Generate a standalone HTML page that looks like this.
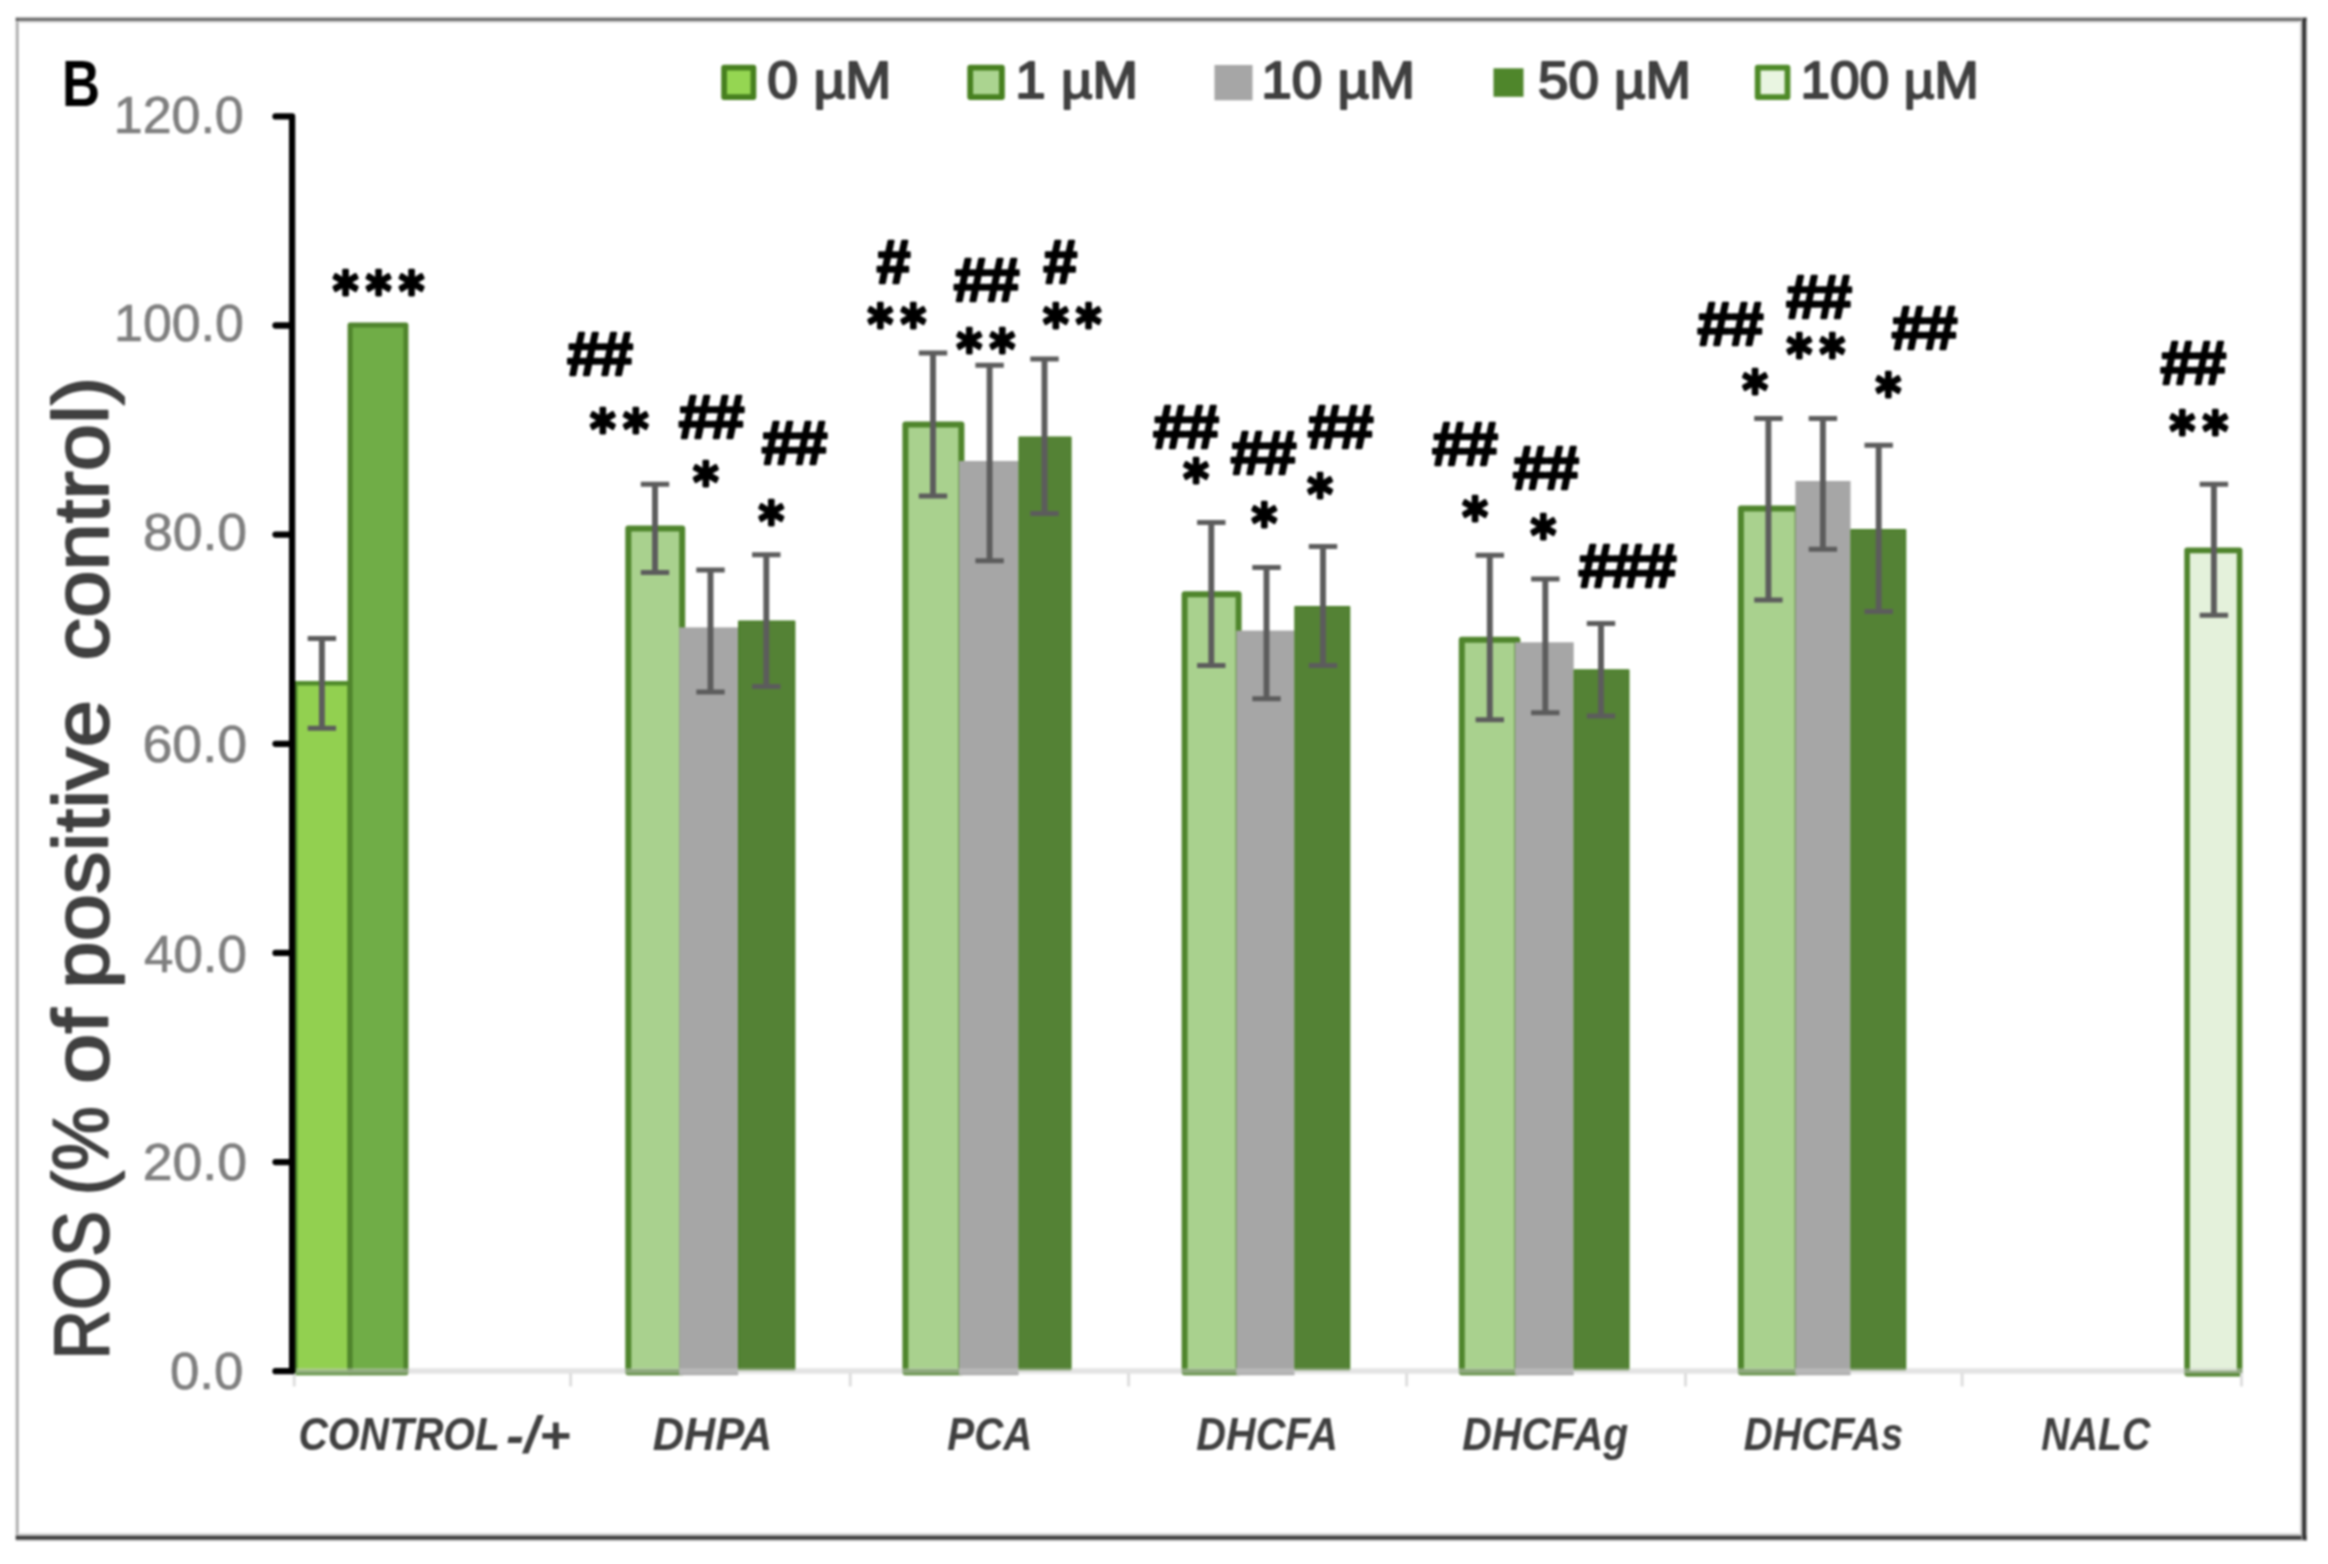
<!DOCTYPE html>
<html lang="en">
<head>
<meta charset="utf-8">
<title>ROS (% of positive control)</title>
<style>
html,body{margin:0;padding:0;background:#fff;}
body{width:2328px;height:1564px;overflow:hidden;}
svg{display:block;filter:blur(1.25px);}
text{font-family:"Liberation Sans",sans-serif;white-space:pre;}
.h{font-weight:700;font-size:60.5px;letter-spacing:-1.6px;stroke:#000;stroke-width:2.6px;stroke-linejoin:round;}
.s{font-family:"DejaVu Sans","Liberation Sans",sans-serif;font-weight:700;font-size:49.0px;letter-spacing:7.3px;stroke:#000;stroke-width:2.6px;stroke-linejoin:round;}
.t{font-size:52.0px;stroke:#7f7f7f;stroke-width:0.7px;}
.l{font-size:52.0px;fill:#404040;stroke:#404040;stroke-width:2.0px;stroke-linejoin:round;}
.c{font-size:47.0px;font-weight:700;font-style:italic;}
.y{font-size:77.0px;fill:#404040;stroke:#404040;stroke-width:1.9px;stroke-linejoin:round;}
.b{font-size:64.5px;font-weight:700;fill:#000;}
</style>
</head>
<body>
<svg width="2328" height="1564" viewBox="0 0 2328 1564">
<rect x="0" y="0" width="2328" height="1564" fill="#fff"/>
<g id="frame">
<rect x="15.2" y="17.2" width="1.3" height="1523" fill="#d6d6d6"/>
<rect x="16.5" y="17.2" width="2.0" height="1523" fill="#9c9c9c"/>
<rect x="15.8" y="17.1" width="2291" height="1.6" fill="#a2a2a2"/>
<rect x="15.8" y="18.7" width="2291" height="2.0" fill="#424242"/>
<rect x="17.5" y="20.7" width="2284" height="1.9" fill="#cdcdcd"/>
<rect x="17.5" y="1533.1" width="2284" height="2.1" fill="#dadada"/>
<rect x="15.8" y="1535.2" width="2291" height="1.7" fill="#6e6e6e"/>
<rect x="15.8" y="1536.9" width="2291" height="2.1" fill="#262626"/>
<rect x="15.8" y="1539.0" width="2291" height="1.8" fill="#a2a2a2"/>
<rect x="2299.2" y="21" width="2.0" height="1514" fill="#ececec"/>
<rect x="2301.2" y="19" width="1.8" height="1520" fill="#868686"/>
<rect x="2303.0" y="18.2" width="2.2" height="1521.5" fill="#1c1c1c"/>
<rect x="2305.2" y="17.6" width="1.6" height="1523" fill="#626262"/>
</g>
<g id="bars">
<rect x="295.30" y="683.30" width="54.40" height="689.60" fill="#92d050" stroke="#4f8a2a" stroke-width="4.6" stroke-linejoin="round"/>
<rect x="350.10" y="325.00" width="55.80" height="1047.70" fill="#70ad47" stroke="#4f842c" stroke-width="5.0" stroke-linejoin="round"/>
<rect x="628.30" y="528.60" width="53.90" height="843.60" fill="#a9d18e" stroke="#4f852c" stroke-width="6.0" stroke-linejoin="round"/>
<rect x="679.20" y="627.40" width="59.00" height="747.80" fill="#a6a6a6"/>
<rect x="738.80" y="621.40" width="55.80" height="748.20" fill="#548235" stroke="#4a7f28" stroke-width="1.6" stroke-linejoin="round"/>
<rect x="905.40" y="424.50" width="56.00" height="947.70" fill="#a9d18e" stroke="#4f852c" stroke-width="6.0" stroke-linejoin="round"/>
<rect x="959.10" y="461.00" width="59.50" height="914.20" fill="#a6a6a6"/>
<rect x="1019.20" y="437.30" width="51.60" height="932.30" fill="#548235" stroke="#4a7f28" stroke-width="1.6" stroke-linejoin="round"/>
<rect x="1184.60" y="594.30" width="54.00" height="777.90" fill="#a9d18e" stroke="#4f852c" stroke-width="6.0" stroke-linejoin="round"/>
<rect x="1236.30" y="630.60" width="58.20" height="744.60" fill="#a6a6a6"/>
<rect x="1295.10" y="606.80" width="54.40" height="762.80" fill="#548235" stroke="#4a7f28" stroke-width="1.6" stroke-linejoin="round"/>
<rect x="1461.80" y="639.80" width="55.60" height="732.40" fill="#a9d18e" stroke="#4f852c" stroke-width="6.0" stroke-linejoin="round"/>
<rect x="1515.10" y="642.30" width="58.60" height="732.90" fill="#a6a6a6"/>
<rect x="1574.30" y="670.10" width="54.40" height="699.50" fill="#548235" stroke="#4a7f28" stroke-width="1.6" stroke-linejoin="round"/>
<rect x="1740.90" y="508.60" width="56.80" height="863.60" fill="#a9d18e" stroke="#4f852c" stroke-width="6.0" stroke-linejoin="round"/>
<rect x="1795.40" y="481.00" width="55.10" height="894.20" fill="#a6a6a6"/>
<rect x="1851.10" y="529.80" width="54.40" height="839.80" fill="#548235" stroke="#4a7f28" stroke-width="1.6" stroke-linejoin="round"/>
<rect x="2187.10" y="550.40" width="52.50" height="823.20" fill="#e4f1db" stroke="#4f842c" stroke-width="5.6" stroke-linejoin="round"/>
</g>
<g id="xaxis" stroke="#c9c9c9" stroke-opacity="0.5" stroke-width="5.5" fill="none">
<line x1="296" y1="1370.9" x2="2243" y2="1370.9"/>
</g>
<g id="xticks" stroke="#dedede" stroke-width="3" fill="none">
<line x1="294.2" y1="1373" x2="294.2" y2="1386.5"/>
<line x1="570.6" y1="1373" x2="570.6" y2="1386.5"/>
<line x1="850.2" y1="1373" x2="850.2" y2="1386.5"/>
<line x1="1128.6" y1="1373" x2="1128.6" y2="1386.5"/>
<line x1="1406.7" y1="1373" x2="1406.7" y2="1386.5"/>
<line x1="1685.5" y1="1373" x2="1685.5" y2="1386.5"/>
<line x1="1962.1" y1="1373" x2="1962.1" y2="1386.5"/>
<line x1="2241.5" y1="1373" x2="2241.5" y2="1386.5"/>
</g>
<g id="yaxis" stroke="#000" stroke-width="6.3" fill="none" stroke-linecap="round" stroke-linejoin="round">
<path d="M275.5 116.4 H292.1 V1371.2 H275.5"/>
<line x1="275.5" y1="1162.1" x2="291" y2="1162.1"/>
<line x1="275.5" y1="952.9" x2="291" y2="952.9"/>
<line x1="275.5" y1="743.8" x2="291" y2="743.8"/>
<line x1="275.5" y1="534.6" x2="291" y2="534.6"/>
<line x1="275.5" y1="325.5" x2="291" y2="325.5"/>
</g>
<g id="errs" stroke="#5c5c5c" fill="none">
<path stroke-width="5.9" d="M321.9 638.5V728.3"/>
<path stroke-width="5.0" d="M307.7 638.5H336.1M307.7 728.3H336.1"/>
<path stroke-width="5.9" d="M655.0 484.3V572.4"/>
<path stroke-width="5.0" d="M640.8 484.3H669.2M640.8 572.4H669.2"/>
<path stroke-width="5.9" d="M710.5 570.0V692.0"/>
<path stroke-width="5.0" d="M696.3 570.0H724.7M696.3 692.0H724.7"/>
<path stroke-width="5.9" d="M766.3 554.8V686.5"/>
<path stroke-width="5.0" d="M752.1 554.8H780.5M752.1 686.5H780.5"/>
<path stroke-width="5.9" d="M933.0 353.0V496.0"/>
<path stroke-width="5.0" d="M918.8 353.0H947.2M918.8 496.0H947.2"/>
<path stroke-width="5.9" d="M989.6 365.3V560.8"/>
<path stroke-width="5.0" d="M975.4 365.3H1003.8M975.4 560.8H1003.8"/>
<path stroke-width="5.9" d="M1044.5 359.0V513.5"/>
<path stroke-width="5.0" d="M1030.3 359.0H1058.7M1030.3 513.5H1058.7"/>
<path stroke-width="5.9" d="M1211.3 522.5V665.5"/>
<path stroke-width="5.0" d="M1197.1 522.5H1225.5M1197.1 665.5H1225.5"/>
<path stroke-width="5.9" d="M1266.5 567.4V698.7"/>
<path stroke-width="5.0" d="M1252.3 567.4H1280.7M1252.3 698.7H1280.7"/>
<path stroke-width="5.9" d="M1323.0 546.5V665.5"/>
<path stroke-width="5.0" d="M1308.8 546.5H1337.2M1308.8 665.5H1337.2"/>
<path stroke-width="5.9" d="M1489.8 555.2V719.8"/>
<path stroke-width="5.0" d="M1475.6 555.2H1504.0M1475.6 719.8H1504.0"/>
<path stroke-width="5.9" d="M1545.3 579.0V712.8"/>
<path stroke-width="5.0" d="M1531.1 579.0H1559.5M1531.1 712.8H1559.5"/>
<path stroke-width="5.9" d="M1601.0 623.4V716.0"/>
<path stroke-width="5.0" d="M1586.8 623.4H1615.2M1586.8 716.0H1615.2"/>
<path stroke-width="5.9" d="M1768.4 418.6V600.0"/>
<path stroke-width="5.0" d="M1754.2 418.6H1782.6M1754.2 600.0H1782.6"/>
<path stroke-width="5.9" d="M1822.9 418.6V549.2"/>
<path stroke-width="5.0" d="M1808.7 418.6H1837.1M1808.7 549.2H1837.1"/>
<path stroke-width="5.9" d="M1878.7 445.2V611.4"/>
<path stroke-width="5.0" d="M1864.5 445.2H1892.9M1864.5 611.4H1892.9"/>
<path stroke-width="5.9" d="M2213.9 484.2V615.2"/>
<path stroke-width="5.0" d="M2199.7 484.2H2228.1M2199.7 615.2H2228.1"/>
</g>
<g id="ann" fill="#000">
<text class="s" transform="translate(332.8 310.1) scale(1 1.09)">***</text>
<text class="h" x="567.3" y="375.2">##</text>
<text class="s" transform="translate(590.1 447.6) scale(1 1.09)">**</text>
<text class="h" x="678.8" y="437.7">##</text>
<text class="s" transform="translate(693.1 501.1) scale(1 1.09)">*</text>
<text class="h" x="761.8" y="464.2">##</text>
<text class="s" transform="translate(758.5 539.6) scale(1 1.09)">*</text>
<text class="h" x="876.8" y="283.0">#</text>
<text class="s" transform="translate(867.5 343.1) scale(1 1.09)">**</text>
<text class="h" x="953.8" y="301.2">##</text>
<text class="s" transform="translate(956.5 368.1) scale(1 1.09)">**</text>
<text class="h" x="1043.5" y="283.0">#</text>
<text class="s" transform="translate(1042.9 343.1) scale(1 1.09)">**</text>
<text class="h" x="1153.3" y="447.7">##</text>
<text class="s" transform="translate(1183.3 497.6) scale(1 1.09)">*</text>
<text class="h" x="1230.8" y="474.2">##</text>
<text class="s" transform="translate(1251.5 542.1) scale(1 1.09)">*</text>
<text class="h" x="1307.8" y="447.7">##</text>
<text class="s" transform="translate(1307.3 512.6) scale(1 1.09)">*</text>
<text class="h" x="1432.3" y="465.0">##</text>
<text class="s" transform="translate(1462.3 536.1) scale(1 1.09)">*</text>
<text class="h" x="1513.1" y="489.2">##</text>
<text class="s" transform="translate(1530.6 554.4) scale(1 1.09)">*</text>
<text class="h" x="1578.6" y="587.2">###</text>
<text class="h" x="1697.6" y="345.2">##</text>
<text class="s" transform="translate(1742.3 408.8) scale(1 1.09)">*</text>
<text class="h" x="1786.3" y="318.0">##</text>
<text class="s" transform="translate(1786.5 373.1) scale(1 1.09)">**</text>
<text class="h" x="1891.8" y="348.7">##</text>
<text class="s" transform="translate(1875.5 411.6) scale(1 1.09)">*</text>
<text class="h" x="2160.5" y="383.9">##</text>
<text class="s" transform="translate(2169.5 450.4) scale(1 1.09)">**</text>
</g>
<g id="ylab" fill="#7f7f7f">
<text class="t" x="169.9" y="1388.5" textLength="73.4" lengthAdjust="spacingAndGlyphs">0.0</text>
<text class="t" x="142.7" y="1179.9" textLength="104.3" lengthAdjust="spacingAndGlyphs">20.0</text>
<text class="t" x="144.0" y="971.8" textLength="103.0" lengthAdjust="spacingAndGlyphs">40.0</text>
<text class="t" x="142.5" y="761.5" textLength="104.5" lengthAdjust="spacingAndGlyphs">60.0</text>
<text class="t" x="142.9" y="549.7" textLength="104.1" lengthAdjust="spacingAndGlyphs">80.0</text>
<text class="t" x="114.1" y="341.3" textLength="129.7" lengthAdjust="spacingAndGlyphs">100.0</text>
<text class="t" x="113.8" y="133.0" textLength="129.9" lengthAdjust="spacingAndGlyphs">120.0</text>
</g>
<g id="legend">
<rect x="724.1" y="67.7" width="29.3" height="29.4" fill="#95d652" stroke="#47801f" stroke-width="5.8" stroke-linejoin="round"/>
<rect x="970.2" y="67.7" width="31.7" height="29.4" fill="#abd490" stroke="#47801f" stroke-width="5.8" stroke-linejoin="round"/>
<rect x="1214.5" y="65.0" width="38.0" height="35.3" fill="#a6a6a6"/>
<rect x="1493.5" y="68.3" width="30.0" height="28.5" fill="#4f862b"/>
<rect x="1757.7" y="67.7" width="29.8" height="29.4" fill="#e9f5e1" stroke="#4e8a28" stroke-width="5.8" stroke-linejoin="round"/>
<text class="l" x="767.3" y="98.3" textLength="124.0" lengthAdjust="spacingAndGlyphs">0 µM</text>
<text class="l" x="1015.3" y="98.3" textLength="122.7" lengthAdjust="spacingAndGlyphs">1 µM</text>
<text class="l" x="1261.3" y="98.3" textLength="153.7" lengthAdjust="spacingAndGlyphs">10 µM</text>
<text class="l" x="1538.0" y="98.3" textLength="153.0" lengthAdjust="spacingAndGlyphs">50 µM</text>
<text class="l" x="1800.4" y="98.3" textLength="178.4" lengthAdjust="spacingAndGlyphs">100 µM</text>
</g>
<g id="cats" fill="#404040">
<text class="c" y="1450.3"><tspan x="298.4" font-size="47.0" textLength="200.8" lengthAdjust="spacingAndGlyphs">CONTROL</tspan> <tspan x="506.1" y="1452.5" font-size="52.0" textLength="64.6" lengthAdjust="spacingAndGlyphs">-/+</tspan></text>
<text class="c" x="652.8" y="1450.3" textLength="119.6" lengthAdjust="spacingAndGlyphs">DHPA</text>
<text class="c" x="947.3" y="1450.3" textLength="85.1" lengthAdjust="spacingAndGlyphs">PCA</text>
<text class="c" x="1196.3" y="1450.3" textLength="141.6" lengthAdjust="spacingAndGlyphs">DHCFA</text>
<text class="c" x="1462.3" y="1450.3" textLength="165.9" lengthAdjust="spacingAndGlyphs">DHCFAg</text>
<text class="c" x="1743.8" y="1450.3" textLength="159.5" lengthAdjust="spacingAndGlyphs">DHCFAs</text>
<text class="c" x="2041.3" y="1450.3" textLength="109.2" lengthAdjust="spacingAndGlyphs">NALC</text>
</g>
<text class="y" transform="rotate(-90)" y="108.4"><tspan x="-1359.5" textLength="148.4" lengthAdjust="spacingAndGlyphs">ROS</tspan> <tspan x="-1195.2" textLength="89.0" lengthAdjust="spacingAndGlyphs">(%</tspan> <tspan x="-1084.0" textLength="75.5" lengthAdjust="spacingAndGlyphs">of</tspan> <tspan x="-988.7" textLength="288.7" lengthAdjust="spacingAndGlyphs">positive</tspan>  <tspan x="-660.4" textLength="283.7" lengthAdjust="spacingAndGlyphs">control)</tspan></text>
<text class="b" x="61.9" y="106.4" textLength="38.1" lengthAdjust="spacingAndGlyphs">B</text>
</svg>
</body>
</html>
